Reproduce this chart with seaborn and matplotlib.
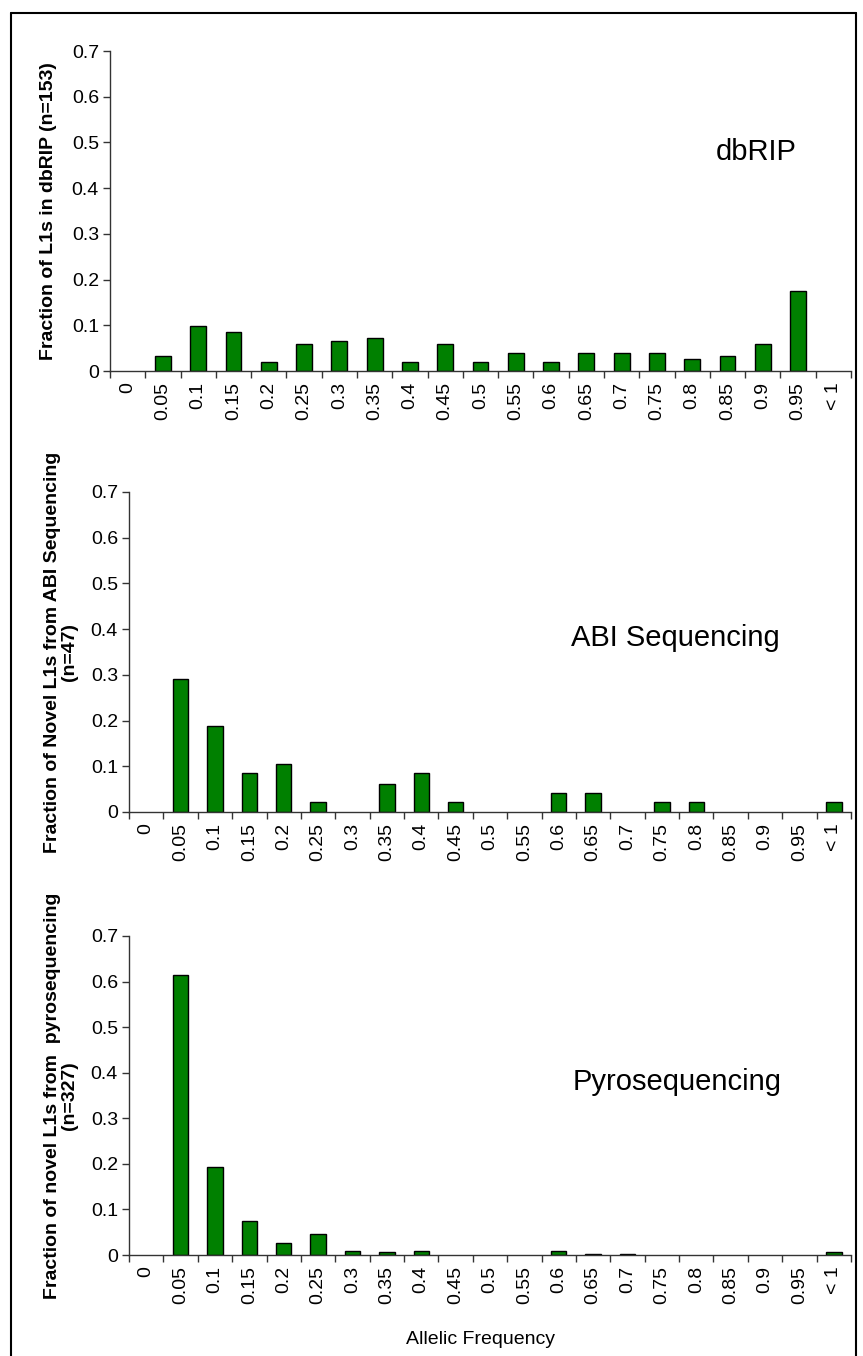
import numpy as np
import pandas as pd
import seaborn as sns
import matplotlib.pyplot as plt
from matplotlib.lines import Line2D

sns.set_style("white")
plt.rcParams['font.family'] = ['Liberation Sans', 'DejaVu Sans']
plt.rcParams['text.color'] = 'black'
plt.rcParams['axes.labelcolor'] = 'black'
plt.rcParams['xtick.labelcolor'] = 'black'
plt.rcParams['ytick.labelcolor'] = 'black'

# allelic frequency bins (x categories)
freq_bins = ["0", "0.05", "0.1", "0.15", "0.2", "0.25", "0.3", "0.35", "0.4", "0.45", "0.5",
             "0.55", "0.6", "0.65", "0.7", "0.75", "0.8", "0.85", "0.9", "0.95", "< 1"]

# fraction of L1s per bin
dbrip_frac = [0, 0.033, 0.098, 0.085, 0.020, 0.059, 0.065, 0.072, 0.020, 0.059, 0.020,
              0.039, 0.020, 0.039, 0.039, 0.039, 0.026, 0.033, 0.059, 0.176, 0]
abi_frac = [0, 0.290, 0.188, 0.085, 0.104, 0.021, 0, 0.062, 0.085, 0.021, 0,
            0, 0.042, 0.042, 0, 0.021, 0.021, 0, 0, 0, 0.021]
pyro_frac = [0, 0.615, 0.193, 0.074, 0.027, 0.045, 0.009, 0.006, 0.009, 0, 0,
             0, 0.009, 0.003, 0.003, 0, 0, 0, 0, 0, 0.006]

panel_titles = ["dbRIP", "ABI Sequencing", "Pyrosequencing"]
panel_ylabels = ["Fraction of L1s in dbRIP (n=153)",
                 "Fraction of Novel L1s from ABI Sequencing\n(n=47)",
                 "Fraction of novel L1s from  pyrosequencing\n(n=327)"]
y_ticks = [0, 0.1, 0.2, 0.3, 0.4, 0.5, 0.6, 0.7]
y_ticklabels = ["0", "0.1", "0.2", "0.3", "0.4", "0.5", "0.6", "0.7"]

W, H = 863, 1356
fig = plt.figure(figsize=(W / 100, H / 100), dpi=100)

# axes boxes in pixels: left, right, top, bottom
boxes = [(110, 851, 51, 371), (129, 851, 492, 812), (129, 851, 936, 1255)]
title_pos = [(17.8, 0.48), (15.4, 0.38), (15.45, 0.38)]
ylabel_right = [57, 78, 78]

axis_col = "#333333"

for k, (series, (l, r, t, b)) in enumerate(zip([dbrip_frac, abi_frac, pyro_frac], boxes)):
    ax = fig.add_axes([l / W, (H - b) / H, (r - l) / W, (b - t) / H])
    # empty bins are not drawn at all
    vals = [v if v > 0 else np.nan for v in series]
    df = pd.DataFrame({"bin": freq_bins, "frac": vals})
    sns.barplot(data=df, x="bin", y="frac", order=freq_bins, color="#008000",
                saturation=1, width=0.45, edgecolor="black", linewidth=1.0, ax=ax)
    ax.set_xlim(-0.5, len(freq_bins) - 0.5)
    ax.set_ylim(0, 0.7)

    sns.despine(ax=ax, top=True, right=True)
    for side in ["left", "bottom"]:
        ax.spines[side].set_color(axis_col)
        ax.spines[side].set_linewidth(1.0)

    ax.set_yticks(y_ticks)
    ax.set_yticklabels(y_ticklabels, fontsize=14)
    ax.tick_params(axis="y", direction="out", length=5, width=1, color=axis_col, pad=3, left=True)

    # category labels at centres, tick marks at the category boundaries
    ax.set_xticks(np.arange(len(freq_bins)))
    ax.set_xticklabels(freq_bins, rotation=90, fontsize=14)
    ax.set_xticks(np.arange(len(freq_bins) + 1) - 0.5, minor=True)
    ax.tick_params(axis="x", which="major", length=0, pad=8)
    ax.tick_params(axis="x", which="minor", direction="out", length=5, width=1,
                   color=axis_col, bottom=True)

    ax.set_xlabel("")
    ax.set_ylabel(panel_ylabels[k], fontsize=14, fontweight="bold", linespacing=1.0)
    ax.yaxis.set_label_coords((ylabel_right[k] - l) / (r - l), 0.5)

    tx, ty = title_pos[k]
    ax.text(tx, ty, panel_titles[k], fontsize=21, ha="center", va="center")

fig.text(480 / W, 1 - 1340 / H, "Allelic Frequency", fontsize=14, ha="center", va="center")

# outer frame (left, top, right)
frame = dict(color="black", linewidth=1.5, transform=fig.transFigure)
fig.add_artist(Line2D([11 / W, 11 / W], [-0.01, 1 - 13 / H], **frame))
fig.add_artist(Line2D([11 / W, 856 / W], [1 - 13 / H, 1 - 13 / H], **frame))
fig.add_artist(Line2D([856 / W, 856 / W], [-0.01, 1 - 13 / H], **frame))

fig.savefig("out.png", dpi=100)
